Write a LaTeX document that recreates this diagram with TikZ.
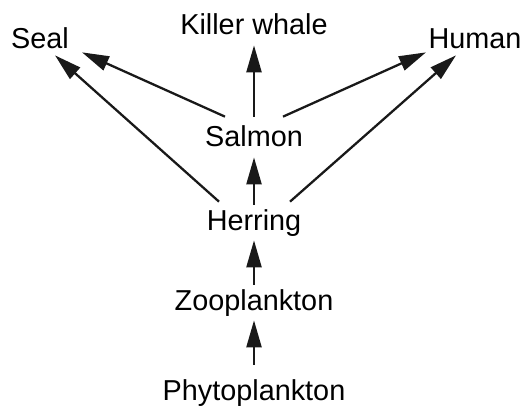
\documentclass[tikz,border=0pt]{standalone}
\usepackage{fontspec}
\setmainfont{Liberation Sans}
\usetikzlibrary{arrows.meta}

\begin{document}
\begin{tikzpicture}[
  x=0.02cm, y=-0.02cm,
  font=\fontsize{16.4}{19}\selectfont,
  >={Triangle[length=0.54cm, width=0.3cm]},
  species/.style={anchor=base, inner xsep=0pt, inner ysep=0.08cm, text height=0.42cm, text depth=0.12cm},
  eats/.style={->, draw=black!90, line width=1.3pt}
]
  \useasboundingbox (0,0) rectangle (526,405);
  % organisms (at their baselines)
  \node[species] (seal) at (40,49) {Seal};
  \node[species] (orca) at (254,35) {Killer whale};
  \node[species] (human) at (475,49) {Human};
  \node[species] (salmon) at (254,147) {Salmon};
  \node[species] (herring) at (254,230) {Herring};
  \node[species] (zoo) at (254,310) {Zooplankton};
  \node[species] (phyto) at (254,400) {Phytoplankton};
  % food chain
  \draw[eats] ([shift={(0,-10)}]phyto.north) -- (zoo.south);
  \draw[eats] (zoo.north) -- (herring.south);
  \draw[eats] (herring.north) -- (salmon.south);
  \draw[eats] ([shift={(0,-5)}]salmon.north) -- (orca.south);
  \draw[eats] ([shift={(-29,-5)}]salmon.north) -- ([shift={(42,-7)}]seal.south);
  \draw[eats] ([shift={(29,-5)}]salmon.north) -- ([shift={(-49,-7)}]human.south);
  \draw[eats] ([shift={(-35,-3)}]herring.north) -- ([shift={(15,-4)}]seal.south);
  \draw[eats] ([shift={(36,-3)}]herring.north) -- ([shift={(-19,-4)}]human.south);
\end{tikzpicture}
\end{document}
